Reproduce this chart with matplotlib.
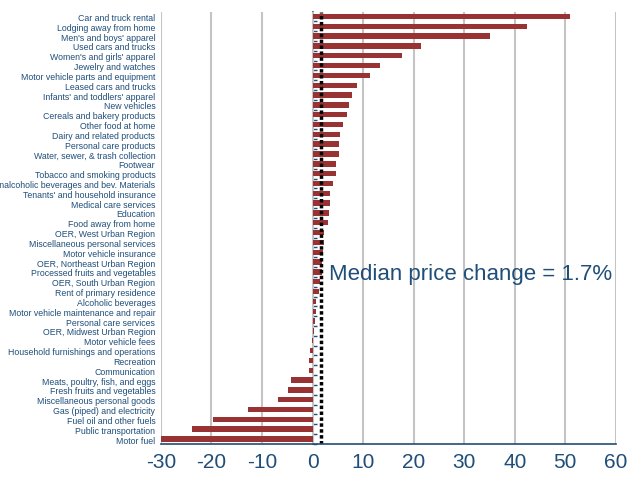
import matplotlib
matplotlib.use("Agg")
import numpy as np
import matplotlib.pyplot as plt

# CPI components, 12-month percent change
categories = [
    "Car and truck rental", "Lodging away from home", "Men's and boys' apparel",
    "Used cars and trucks", "Women's and girls' apparel", "Jewelry and watches",
    "Motor vehicle parts and equipment", "Leased cars and trucks",
    "Infants' and toddlers' apparel", "New vehicles", "Cereals and bakery products",
    "Other food at home", "Dairy and related products", "Personal care products",
    "Water, sewer, & trash collection", "Footwear", "Tobacco and smoking products",
    "Nonalcoholic beverages and bev. Materials", "Tenants' and household insurance",
    "Medical care services", "Education", "Food away from home",
    "OER, West Urban Region", "Miscellaneous personal services",
    "Motor vehicle insurance", "OER, Northeast Urban Region",
    "Processed fruits and vegetables", "OER, South Urban Region",
    "Rent of primary residence", "Alcoholic beverages",
    "Motor vehicle maintenance and repair", "Personal care services",
    "OER, Midwest Urban Region", "Motor vehicle fees",
    "Household furnishings and operations", "Recreation", "Communication",
    "Meats, poultry, fish, and eggs", "Fresh fruits and vegetables",
    "Miscellaneous personal goods", "Gas (piped) and electricity",
    "Fuel oil and other fuels", "Public transportation", "Motor fuel",
]
values = [
    51.0, 42.4, 35.1, 21.4, 17.6, 13.3, 11.3, 8.7, 7.8, 7.3, 6.9, 6.1, 5.5, 5.2,
    5.2, 4.7, 4.6, 4.0, 3.5, 3.4, 3.2, 3.0, 2.2, 2.2, 2.1, 1.9, 1.8, 1.45, 1.25,
    0.65, 0.6, 0.45, 0.2, -0.2, -0.5, -0.65, -0.8, -4.3, -4.9, -6.8, -12.7,
    -19.6, -23.8, -29.9,
]
median = 1.7
xticks = [-30, -20, -10, 0, 10, 20, 30, 40, 50, 60]

blue = "#1F4E79"
red = "#993333"

fig = plt.figure(figsize=(6.31, 4.81), dpi=100)
ax = fig.add_axes([0.255, 0.075, 0.721, 0.898])

y = np.arange(len(categories))
ax.barh(y, values, height=0.55, color=red, zorder=3)

for t in xticks:
    ax.axvline(t, color="#C4C4C4", lw=1.5, zorder=1)

ax.axvline(median, color="black", lw=2.5, linestyle=(0, (1, 0.7)), zorder=4)
ax.text(3.2, 26.2, "Median price change = 1.7%", fontsize=16, color=blue,
        ha="left", va="center", family=["Liberation Sans", "DejaVu Sans"], zorder=5)

ax.set_xlim(-30, 60)
ax.set_ylim(len(categories) - 0.5, -0.45)
ax.set_xticks(xticks)
ax.set_xticklabels([str(t) for t in xticks], fontsize=15, color=blue,
                   family=["Liberation Sans", "DejaVu Sans"])
ax.set_yticks(y)
ax.set_yticklabels(categories, fontsize=6.3, color=blue,
                   family=["Liberation Sans Narrow", "Liberation Sans", "DejaVu Sans"])
ax.tick_params(axis="y", length=0, pad=4)
ax.tick_params(axis="x", length=0, pad=6)

for s in ["left", "right", "top"]:
    ax.spines[s].set_visible(False)
ax.spines["bottom"].set_color(blue)
ax.spines["bottom"].set_linewidth(1.2)
ax.spines["bottom"].set_zorder(6)

# y axis line at zero with ticks between categories
sec = ax.secondary_yaxis(30 / 90)
sec.set_yticks(np.arange(len(categories) + 1) - 0.5)
sec.set_yticklabels([])
sec.tick_params(axis="y", direction="in", length=3, color=blue, width=1)
sec.spines["left"].set_color(blue)
sec.spines["left"].set_linewidth(1.2)

fig.savefig("out.png", dpi=100)
